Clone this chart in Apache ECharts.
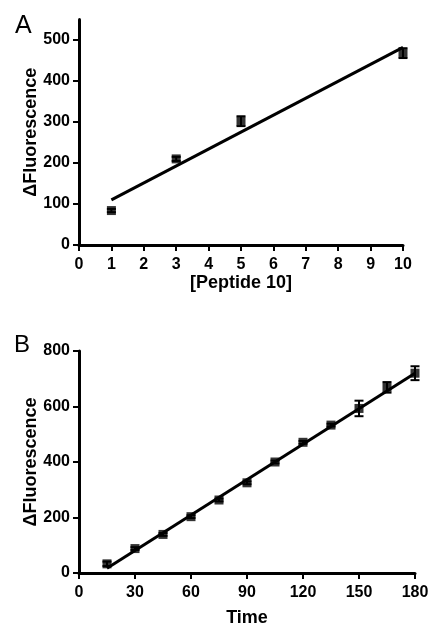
<!DOCTYPE html>
<html><head><meta charset="utf-8">
<script src="https://cdn.jsdelivr.net/npm/echarts@6/dist/echarts.min.js"></script>
<style>html,body{margin:0;padding:0;background:#fff}#c{width:430px;height:625px}</style>
</head><body><div id="c"></div>
<script>
// Panel A
const peptideX = [1, 3, 5, 10];
const peptideY = [84, 210, 302, 468];
const peptideErr = [4, 5, 12, 12];
const fitAX = [1, 10];
const fitAY = [110, 482];
const ticksAY = [0, 100, 200, 300, 400, 500];
// Panel B
const timeX = [15, 30, 45, 60, 75, 90, 105, 120, 135, 150, 165, 180];
const timeY = [33, 88, 139, 203, 263, 325, 400, 471, 533, 593, 669, 720];
const timeErr = [8, 5, 5, 5, 5, 5, 5, 5, 5, 28, 19, 25];
const fitBX = [15, 180];
const fitBY = [17, 720];

const FONT = '"Liberation Sans", Arial, sans-serif';
const zip = (a, b) => a.map((v, i) => [v, b[i]]);
const zip3 = (a, b, c) => a.map((v, i) => [v, b[i], c[i]]);

function errRender(params, api) {
  const x = api.value(0), y = api.value(1), e = api.value(2);
  const hi = api.coord([x, y + e]);
  const lo = api.coord([x, y - e]);
  const w = 4.5;
  const style = { stroke: '#000', lineWidth: 2 };
  return { type: 'group', children: [
    { type: 'line', shape: { x1: hi[0], y1: hi[1], x2: lo[0], y2: lo[1] }, style },
    { type: 'line', shape: { x1: hi[0] - w, y1: hi[1], x2: hi[0] + w, y2: hi[1] }, style },
    { type: 'line', shape: { x1: lo[0] - w, y1: lo[1], x2: lo[0] + w, y2: lo[1] }, style }
  ]};
}

const axisCommon = {
  nameMoveOverlap: false,
  axisLine: { show: true, lineStyle: { color: '#000', width: 3 } },
  axisTick: { show: true, inside: false, length: 6, lineStyle: { color: '#000', width: 2 } },
  axisLabel: { color: '#000', fontFamily: FONT, fontWeight: 'bold', fontSize: 16, margin: 9 },
  splitLine: { show: false },
  nameTextStyle: { color: '#000', fontFamily: FONT, fontWeight: 'bold', fontSize: 18 }
};
const xLabel = Object.assign({}, axisCommon.axisLabel, { margin: 12 });

const chart = echarts.init(document.getElementById('c'));
chart.setOption({
  animation: false,
  backgroundColor: '#fff',
  title: [
    { text: 'A', left: 10, top: 9, textStyle: { fontFamily: FONT, fontWeight: 'normal', fontSize: 25, color: '#000' } },
    { text: 'B', left: 9, top: 328, textStyle: { fontFamily: FONT, fontWeight: 'normal', fontSize: 24, color: '#000' } }
  ],
  grid: [
    { left: 79, top: 19.5, width: 324, height: 225.5, outerBoundsMode: 'none', containLabel: false },
    { left: 79, top: 351, width: 336, height: 222, outerBoundsMode: 'none', containLabel: false }
  ],
  xAxis: [
    Object.assign({}, axisCommon, { type: 'value', gridIndex: 0, min: 0, max: 10, interval: 1,
      axisLabel: xLabel, name: '[Peptide 10]', nameLocation: 'middle', nameGap: 29 }),
    Object.assign({}, axisCommon, { type: 'value', gridIndex: 1, min: 0, max: 180, interval: 30,
      axisLabel: xLabel, name: 'Time', nameLocation: 'middle', nameGap: 36 })
  ],
  yAxis: [
    Object.assign({}, axisCommon, { type: 'value', gridIndex: 0, min: 0, max: 550, interval: 100,
      axisTick: Object.assign({}, axisCommon.axisTick, { customValues: ticksAY }),
      axisLabel: Object.assign({}, axisCommon.axisLabel, { customValues: ticksAY }),
      name: 'ΔFluorescence', nameLocation: 'middle', nameGap: 39, nameRotate: 90 }),
    Object.assign({}, axisCommon, { type: 'value', gridIndex: 1, min: 0, max: 800, interval: 200,
      name: 'ΔFluorescence', nameLocation: 'middle', nameGap: 39, nameRotate: 90 })
  ],
  series: [
    { type: 'line', xAxisIndex: 0, yAxisIndex: 0, data: zip(fitAX, fitAY), showSymbol: false,
      lineStyle: { color: '#000', width: 3 }, z: 2 },
    { type: 'custom', xAxisIndex: 0, yAxisIndex: 0, data: zip3(peptideX, peptideY, peptideErr), renderItem: errRender, z: 3 },
    { type: 'scatter', xAxisIndex: 0, yAxisIndex: 0, data: zip(peptideX, peptideY), symbol: 'rect', symbolSize: 9,
      itemStyle: { color: '#000' }, z: 4 },
    { type: 'line', xAxisIndex: 1, yAxisIndex: 1, data: zip(fitBX, fitBY), showSymbol: false,
      lineStyle: { color: '#000', width: 3 }, z: 2 },
    { type: 'custom', xAxisIndex: 1, yAxisIndex: 1, data: zip3(timeX, timeY, timeErr), renderItem: errRender, z: 3 },
    { type: 'scatter', xAxisIndex: 1, yAxisIndex: 1, data: zip(timeX, timeY), symbol: 'rect', symbolSize: 9,
      itemStyle: { color: '#000' }, z: 4 }
  ]
});
</script></body></html>
